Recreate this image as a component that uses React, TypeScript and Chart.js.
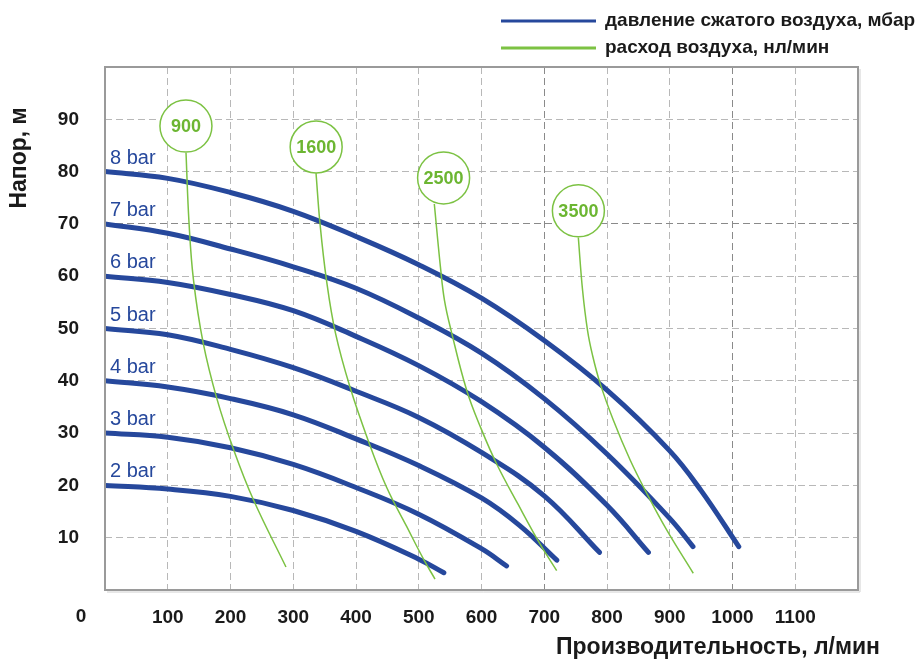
import React, { useEffect, useRef } from 'react';
import { Chart, registerables } from 'chart.js';

Chart.register(...registerables);

// ---- data ----
const xTickValues = [0, 100, 200, 300, 400, 500, 600, 700, 800, 900, 1000, 1100, 1200];
const yTickValues = [10, 20, 30, 40, 50, 60, 70, 80, 90];

const pressureLabels = ['2 bar', '3 bar', '4 bar', '5 bar', '6 bar', '7 bar', '8 bar'];

const bar2: [number, number][] = [[0, 20], [100, 19.3], [200, 17.9], [300, 15.2], [400, 11.2], [500, 5.9], [540, 3.3]];
const bar3: [number, number][] = [[0, 30], [100, 29.2], [200, 27.2], [300, 24.0], [400, 19.6], [500, 14.5], [600, 7.9], [640, 4.6]];
const bar4: [number, number][] = [[0, 40], [100, 38.8], [200, 36.6], [300, 33.5], [400, 28.9], [500, 23.8], [600, 17.6], [660, 12.4], [720, 5.7]];
const bar5: [number, number][] = [[0, 50], [100, 48.8], [200, 46.0], [300, 42.5], [400, 38.0], [500, 33.0], [600, 26.3], [700, 18.0], [788, 7.2]];
const bar6: [number, number][] = [[0, 60], [100, 58.8], [200, 56.5], [300, 53.4], [400, 48.5], [500, 42.9], [600, 36.0], [700, 27.3], [800, 16.2], [866, 7.2]];
const bar7: [number, number][] = [[0, 70], [100, 68.2], [200, 65.2], [300, 61.8], [400, 57.7], [500, 52.0], [600, 45.3], [700, 36.6], [800, 26.0], [900, 13.7], [937, 8.3]];
const bar8: [number, number][] = [[0, 80], [100, 78.7], [200, 76.0], [300, 72.4], [400, 67.6], [500, 62.2], [600, 55.8], [700, 47.7], [800, 38.2], [900, 26.6], [950, 19.0], [1010, 8.3]];
const pressureSeries = [bar2, bar3, bar4, bar5, bar6, bar7, bar8];

const flowLabels = ['900', '1600', '2500', '3500'];
const flowCircleX = [129, 336.5, 539.6, 754.4];
const flowCircleY = [88.7, 84.7, 78.8, 72.5];

const flow900: [number, number][] = [[129.1, 83.6], [133.9, 70.2], [141.0, 59.3], [156.2, 47.4], [178.5, 36.5], [204.8, 26.9], [236.7, 17.2], [288.4, 4.4]];
const flow1600: [number, number][] = [[336.3, 79.7], [342.6, 70.1], [353.0, 59.2], [367.3, 49.1], [390.4, 38.8], [419.1, 28.7], [448.6, 19.7], [480.5, 12.2], [507.6, 5.9], [525.9, 2.1]];
const flow2500: [number, number][] = [[524.8, 73.8], [534.7, 61.6], [541.0, 55.4], [551.4, 49.7], [576.4, 38.2], [599.2, 30.9], [624.2, 24.1], [658.2, 16.4], [693.2, 8.8], [719.8, 3.7]];
const flow3500: [number, number][] = [[754.3, 67.4], [761.0, 57.4], [768.9, 49.7], [776.9, 44.9], [788.8, 39.6], [810.0, 32.5], [836.7, 24.9], [863.3, 18.5], [895.1, 11.5], [937.5, 3.2]];
const flowSeries = [flow900, flow1600, flow2500, flow3500];

const legendLabels = ['давление сжатого воздуха, мбар', 'расход воздуха, нл/мин'];
const xTitle = 'Производительность, л/мин';
const yTitle = 'Напор, м';

// ---- styles ----
const BLUE = '#26489c';
const GREEN = '#7cc243';
const GREEN_TEXT = '#6cb632';
const FONT = '"Liberation Sans", Arial, sans-serif';
const TEXT = '#1a1a1a';

const toXY = (arr: [number, number][]) => arr.map(([x, y]) => ({ x, y }));

const overlayPlugin = {
  id: 'overlay',
  afterDatasetsDraw(chart: any) {
    const { ctx } = chart;
    const xs = chart.scales.x;
    const ys = chart.scales.y;
    ctx.save();
    // pressure labels
    ctx.fillStyle = BLUE;
    ctx.font = `20px ${FONT}`;
    ctx.textAlign = 'left';
    ctx.textBaseline = 'alphabetic';
    pressureSeries.forEach((s, i) => {
      const px = xs.getPixelForValue(0) + 5;
      const py = ys.getPixelForValue(s[0][1]) - 8;
      ctx.fillText(pressureLabels[i], px, py);
    });
    // circle labels
    const meta = chart.getDatasetMeta(0);
    ctx.fillStyle = GREEN_TEXT;
    ctx.font = `bold 18px ${FONT}`;
    ctx.textAlign = 'center';
    ctx.textBaseline = 'middle';
    meta.data.forEach((pt: any, i: number) => {
      ctx.fillText(flowLabels[i], pt.x, pt.y + 1);
    });
    ctx.restore();
  },
  afterDraw(chart: any) {
    const { ctx, chartArea } = chart;
    const { left, right, top, bottom } = chartArea;
    ctx.save();
    // plot box
    ctx.strokeStyle = '#d0d0d0';
    ctx.lineWidth = 1;
    ctx.beginPath();
    ctx.moveTo(right + 2, top + 2);
    ctx.lineTo(right + 2, bottom + 2);
    ctx.lineTo(left + 2, bottom + 2);
    ctx.stroke();
    ctx.strokeStyle = '#9a9a9a';
    ctx.lineWidth = 2;
    ctx.strokeRect(left, top, right - left, bottom - top);

    // "0" origin label
    ctx.fillStyle = TEXT;
    ctx.font = `bold 19px ${FONT}`;
    ctx.textAlign = 'center';
    ctx.textBaseline = 'middle';
    ctx.fillText('0', left - 24, bottom + 27);

    // x title
    ctx.font = `bold 23px ${FONT}`;
    ctx.textAlign = 'right';
    ctx.textBaseline = 'middle';
    ctx.fillText(xTitle, 880, 648);

    // y title
    ctx.save();
    ctx.translate(20, 158);
    ctx.rotate(-Math.PI / 2);
    ctx.textAlign = 'center';
    ctx.textBaseline = 'middle';
    ctx.fillText(yTitle, 0, 0);
    ctx.restore();

    // legend
    const legendColors = [BLUE, GREEN];
    const legendY = [21, 48];
    ctx.font = `bold 19px ${FONT}`;
    ctx.textAlign = 'left';
    ctx.textBaseline = 'middle';
    legendLabels.forEach((lab, i) => {
      ctx.strokeStyle = legendColors[i];
      ctx.lineWidth = 3;
      ctx.beginPath();
      ctx.moveTo(501, legendY[i]);
      ctx.lineTo(596, legendY[i]);
      ctx.stroke();
      ctx.fillStyle = TEXT;
      ctx.fillText(lab, 605, legendY[i]);
    });
    ctx.restore();
  },
};

export default function App() {
  const canvasRef = useRef<HTMLCanvasElement | null>(null);

  useEffect(() => {
    const canvas = canvasRef.current;
    if (!canvas) return;

    const datasets: any[] = [];
    datasets.push({
      label: 'circles',
      data: flowCircleX.map((x, i) => ({ x, y: flowCircleY[i] })),
      showLine: false,
      pointRadius: 26,
      pointHoverRadius: 26,
      pointBackgroundColor: '#ffffff',
      pointBorderColor: GREEN,
      pointBorderWidth: 1.5,
      order: 0,
    });
    flowSeries.forEach((s, i) => {
      datasets.push({
        label: 'flow ' + flowLabels[i],
        data: toXY(s),
        borderColor: GREEN,
        borderWidth: 1.5,
        pointRadius: 0,
        fill: false,
        tension: 0.4,
        order: 1,
      });
    });
    pressureSeries.forEach((s, i) => {
      datasets.push({
        label: pressureLabels[i],
        data: toXY(s),
        borderColor: BLUE,
        borderWidth: 5,
        borderCapStyle: 'round',
        borderJoinStyle: 'round',
        pointRadius: 0,
        fill: false,
        tension: 0.4,
        order: 2,
      });
    });

    const chart = new Chart(canvas, {
      type: 'line',
      data: { datasets },
      options: {
        responsive: false,
        animation: false,
        devicePixelRatio: 1,
        layout: { padding: { top: 67, right: 62, left: 0, bottom: 0 } },
        plugins: {
          legend: { display: false },
          tooltip: { enabled: false },
          title: { display: false },
        },
        events: [],
        scales: {
          x: {
            type: 'linear',
            min: 0,
            max: 1200,
            afterFit: (scale: any) => { scale.height = 72; },
            afterBuildTicks: (scale: any) => { scale.ticks = xTickValues.map((v) => ({ value: v })); },
            ticks: {
              autoSkip: false,
              maxRotation: 0,
              padding: 16,
              color: TEXT,
              font: { family: FONT, size: 19, weight: 'bold' },
              callback: (v: any) => (v === 0 || v === 1200 ? '' : String(v)),
            },
            grid: {
              drawTicks: false,
              color: (c: any) => (c.tick && (c.tick.value === 700 || c.tick.value === 1000) ? '#8a8a8a' : '#b8b8b8'),
              lineWidth: 1,
            },
            border: { display: false, dash: [7, 4] },
          },
          y: {
            type: 'linear',
            min: 0,
            max: 100,
            afterFit: (scale: any) => { scale.width = 105; },
            afterBuildTicks: (scale: any) => { scale.ticks = [0, ...yTickValues, 100].map((v) => ({ value: v })); },
            ticks: {
              autoSkip: false,
              padding: 26,
              color: TEXT,
              font: { family: FONT, size: 19, weight: 'bold' },
              callback: (v: any) => (yTickValues.includes(v) ? String(v) : ''),
            },
            grid: {
              drawTicks: false,
              color: (c: any) => (c.tick && c.tick.value === 70 ? '#8a8a8a' : '#b8b8b8'),
              lineWidth: 1,
            },
            border: { display: false, dash: [7, 4] },
          },
        },
      },
      plugins: [overlayPlugin],
    } as any);

    return () => chart.destroy();
  }, []);

  return (
    <div style={{ position: 'fixed', left: 0, top: 0, width: 920, height: 662, background: '#fff' }}>
      <canvas ref={canvasRef} width={920} height={662} style={{ display: 'block', width: 920, height: 662 }} />
    </div>
  );
}
